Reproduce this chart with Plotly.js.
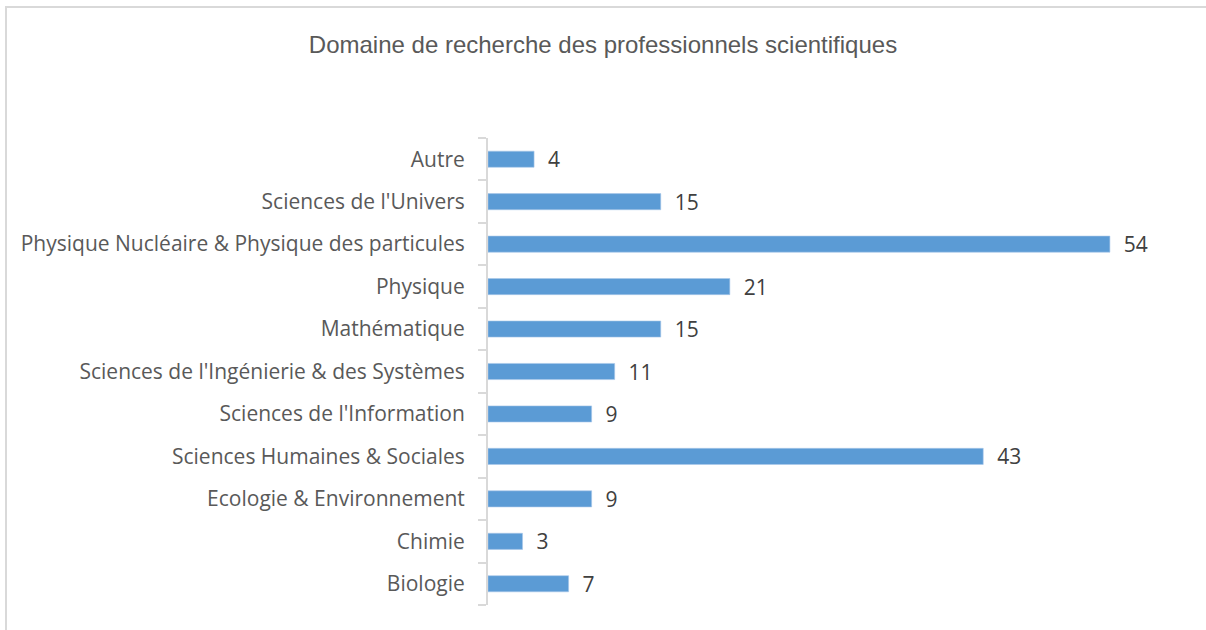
<!DOCTYPE html>
<html>
<head>
<meta charset="utf-8">
<script src="https://cdn.plot.ly/plotly-3.0.1.min.js"></script>
<style>
  html, body { margin: 0; padding: 0; background: #fff; }
  #chart { width: 1206px; height: 630px; position: absolute; left: 0; top: 0; }
  #frame { position: absolute; left: 5px; top: 6px; width: 1210px; height: 640px;
           border-top: 2px solid #d9d9d9; border-left: 2px solid #d9d9d9; pointer-events: none; }
</style>
</head>
<body>
<div id="chart"></div>
<div id="frame"></div>
<script>
const categories = [
  "Biologie",
  "Chimie",
  "Ecologie & Environnement",
  "Sciences Humaines & Sociales",
  "Sciences de l'Information",
  "Sciences de l'Ingénierie & des Systèmes",
  "Mathématique",
  "Physique",
  "Physique Nucléaire & Physique des particules",
  "Sciences de l'Univers",
  "Autre"
];
const values = [7, 3, 9, 43, 9, 11, 15, 21, 54, 15, 4];
const chartTitle = "Domaine de recherche des professionnels scientifiques";

const trace = {
  type: "bar",
  orientation: "h",
  y: categories,
  x: values,
  marker: { color: "#5b9bd5", line: { color: "#a9c8ea", width: 0.6 } },
  texttemplate: "  %{x}",
  textposition: "outside",
  constraintext: "none",
  cliponaxis: false,
  textfont: { family: "Open Sans", size: 21, color: "#404040" },
  hoverinfo: "skip"
};

const layout = {
  width: 1206,
  height: 630,
  paper_bgcolor: "#ffffff",
  plot_bgcolor: "#ffffff",
  margin: { l: 488, r: 27, t: 138, b: 25, pad: 0 },
  bargap: 0.62,
  showlegend: false,
  title: {
    text: chartTitle,
    font: { family: "Liberation Sans", size: 24, color: "#595959" },
    x: 0.5, xanchor: "center",
    y: 0.93, yanchor: "middle"
  },
  xaxis: {
    range: [0, 60],
    showgrid: false,
    zeroline: false,
    showline: false,
    showticklabels: false,
    ticks: "",
    fixedrange: true
  },
  yaxis: {
    type: "category",
    showgrid: false,
    zeroline: false,
    showline: true,
    linecolor: "#d9d9d9",
    linewidth: 2,
    ticks: "outside",
    tickson: "boundaries",
    ticklen: 8,
    tickwidth: 2,
    tickcolor: "#d9d9d9",
    ticklabelstandoff: 17,
    tickfont: { family: "Open Sans", size: 21, color: "#595959" },
    automargin: false,
    fixedrange: true
  }
};

Plotly.newPlot("chart", [trace], layout, { displayModeBar: false, staticPlot: true });
</script>
</body>
</html>
